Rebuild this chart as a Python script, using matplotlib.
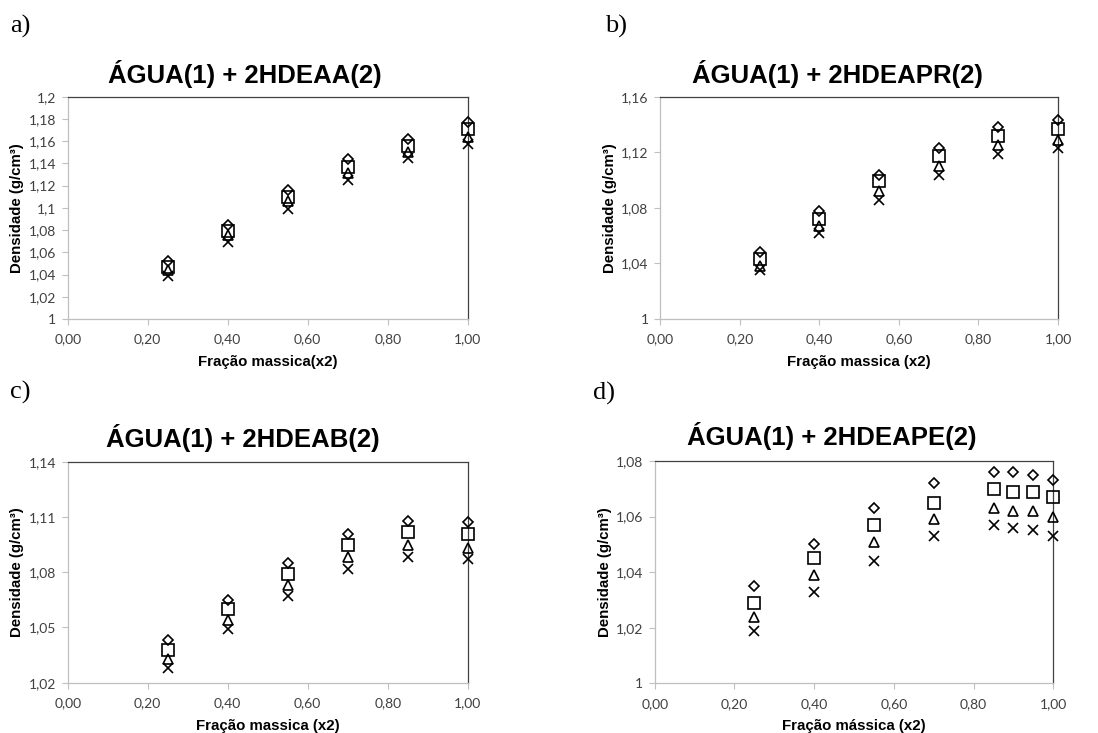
import matplotlib
matplotlib.use("Agg")
import matplotlib.pyplot as plt

W, H = 1098, 733

# ---- data ----
x6 = [0.25, 0.40, 0.55, 0.70, 0.85, 1.00]
x8 = [0.25, 0.40, 0.55, 0.70, 0.85, 0.90, 0.95, 1.00]

a_diamond = [1.052, 1.085, 1.116, 1.144, 1.162, 1.177]
a_square = [1.047, 1.079, 1.110, 1.137, 1.156, 1.171]
a_triangle = [1.044, 1.076, 1.106, 1.131, 1.150, 1.164]
a_cross = [1.039, 1.069, 1.099, 1.125, 1.145, 1.157]

b_diamond = [1.048, 1.078, 1.104, 1.123, 1.138, 1.143]
b_square = [1.043, 1.072, 1.099, 1.117, 1.132, 1.137]
b_triangle = [1.038, 1.067, 1.092, 1.110, 1.125, 1.129]
b_cross = [1.035, 1.062, 1.086, 1.104, 1.119, 1.123]

c_diamond = [1.043, 1.065, 1.085, 1.101, 1.108, 1.107]
c_square = [1.038, 1.060, 1.079, 1.095, 1.102, 1.101]
c_triangle = [1.033, 1.054, 1.073, 1.088, 1.095, 1.093]
c_cross = [1.028, 1.049, 1.067, 1.082, 1.088, 1.087]

d_diamond = [1.035, 1.050, 1.063, 1.072, 1.076, 1.076, 1.075, 1.073]
d_square = [1.029, 1.045, 1.057, 1.065, 1.070, 1.069, 1.069, 1.067]
d_triangle = [1.024, 1.039, 1.051, 1.059, 1.063, 1.062, 1.062, 1.060]
d_cross = [1.019, 1.033, 1.044, 1.053, 1.057, 1.056, 1.055, 1.053]

x_ticks = [0.0, 0.2, 0.4, 0.6, 0.8, 1.0]
x_ticklabels = ["0,00", "0,20", "0,40", "0,60", "0,80", "1,00"]

a_yticks = [1.0, 1.02, 1.04, 1.06, 1.08, 1.1, 1.12, 1.14, 1.16, 1.18, 1.2]
a_yticklabels = ["1", "1,02", "1,04", "1,06", "1,08", "1,1", "1,12", "1,14", "1,16", "1,18", "1,2"]
b_yticks = [1.0, 1.04, 1.08, 1.12, 1.16]
b_yticklabels = ["1", "1,04", "1,08", "1,12", "1,16"]
c_yticks = [1.02, 1.05, 1.08, 1.11, 1.14]
c_yticklabels = ["1,02", "1,05", "1,08", "1,11", "1,14"]
d_yticks = [1.0, 1.02, 1.04, 1.06, 1.08]
d_yticklabels = ["1", "1,02", "1,04", "1,06", "1,08"]

titles = ["ÁGUA(1) + 2HDEAA(2)", "ÁGUA(1) + 2HDEAPR(2)",
          "ÁGUA(1) + 2HDEAB(2)", "ÁGUA(1) + 2HDEAPE(2)"]
xlabels = ["Fração massica(x2)", "Fração massica (x2)",
           "Fração massica (x2)", "Fração mássica (x2)"]
ylabel = "Densidade (g/cm³)"
panel_letters = ["a)", "b)", "c)", "d)"]

fig = plt.figure(figsize=(W / 100, H / 100), dpi=100)

def px_axes(l, t, r, b):
    return fig.add_axes([l / W, 1 - b / H, (r - l) / W, (b - t) / H])

panels = [
    dict(box=(67.7, 96.7, 467.7, 319.0), x=x6,
         series=(a_diamond, a_square, a_triangle, a_cross),
         yt=a_yticks, ytl=a_yticklabels,
         title_xy=(245, 74), letter_xy=(10, 26), ylab_x=17, xlab_y=362),
    dict(box=(660.3, 96.7, 1058.0, 319.0), x=x6,
         series=(b_diamond, b_square, b_triangle, b_cross),
         yt=b_yticks, ytl=b_yticklabels,
         title_xy=(837, 74), letter_xy=(605, 26), ylab_x=610, xlab_y=362),
    dict(box=(67.7, 461.7, 467.7, 682.7), x=x6,
         series=(c_diamond, c_square, c_triangle, c_cross),
         yt=c_yticks, ytl=c_yticklabels,
         title_xy=(243, 438), letter_xy=(10, 392), ylab_x=17, xlab_y=726),
    dict(box=(654.7, 461.0, 1053.3, 683.3), x=x8,
         series=(d_diamond, d_square, d_triangle, d_cross),
         yt=d_yticks, ytl=d_yticklabels,
         title_xy=(832, 436), letter_xy=(593, 393), ylab_x=605, xlab_y=726),
]

markers = [("D", 5.4), ("s", 8.0), ("^", 7.0), ("x", 7.0)]
tick_font = dict(family="Lato", size=10, color="#404040")

for i, p in enumerate(panels):
    l, t, r, b = p["box"]
    ax = px_axes(l, t, r, b)
    for ys, (m, ms) in zip(p["series"], markers):
        ax.plot(p["x"], ys, linestyle="none", marker=m, markersize=ms,
                markerfacecolor="none", markeredgecolor="black",
                markeredgewidth=1.2, clip_on=False, zorder=3)
    ax.set_xlim(0, 1)
    ax.set_ylim(p["yt"][0], p["yt"][-1])
    ax.set_xticks(x_ticks)
    ax.set_xticklabels(x_ticklabels, **tick_font)
    ax.set_yticks(p["yt"])
    ax.set_yticklabels(p["ytl"], **tick_font)
    ax.tick_params(axis="both", direction="out", length=4.5, width=0.8,
                   color="#bfbfbf")
    ax.tick_params(axis="y", pad=4)
    ax.tick_params(axis="x", pad=6)
    for s in ("left", "bottom"):
        ax.spines[s].set_color("#bfbfbf")
        ax.spines[s].set_linewidth(0.9)
    for s in ("top", "right"):
        ax.spines[s].set_color("#404040")
        ax.spines[s].set_linewidth(0.9)

    tx, ty = p["title_xy"]
    fig.text(tx / W, 1 - ty / H, titles[i], ha="center", va="center",
             family="Liberation Sans", weight="bold", size=18.5)
    lx, ly = p["letter_xy"]
    fig.text(lx / W, 1 - ly / H, panel_letters[i], ha="left", va="center",
             family="Liberation Serif", size=19)
    fig.text(p["ylab_x"] / W, 1 - ((t + b) / 2) / H, ylabel, rotation=90,
             ha="center", va="center", family="Liberation Sans",
             weight="bold", size=10.8)
    fig.text(((l + r) / 2) / W, 1 - p["xlab_y"] / H, xlabels[i],
             ha="center", va="center", family="Liberation Sans",
             weight="bold", size=10.8)

fig.savefig("out.png", dpi=100)
